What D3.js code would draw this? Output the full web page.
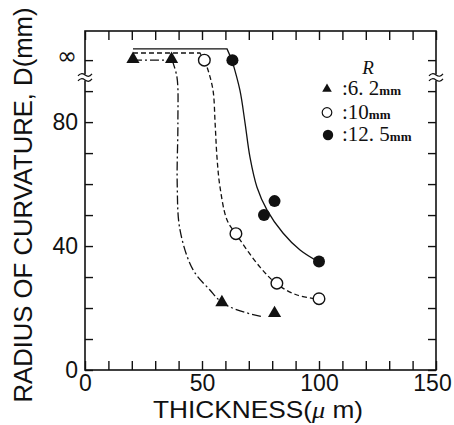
<!DOCTYPE html>
<html>
<head>
<meta charset="utf-8">
<script src="https://cdn.jsdelivr.net/npm/d3@7"></script>
<style>
  body { margin: 0; background: #fff; }
</style>
</head>
<body>
<script>
const width = 454;
const height = 425;

const SANS = "Liberation Sans, Arial, sans-serif";
const SERIF = "Liberation Serif, DejaVu Serif, serif";

// value 100 stands for the "infinity" row above the axis break
const INF = 100;

const xTickValues = d3.range(0, 151, 10);
const xLabels = [0, 50, 100, 150];
const yTickValues = d3.range(0, 101, 10);
const yLabels = { 0: "0", 40: "40", 80: "80" };

const seriesNames = ["6.2", "10", "12.5"];

// measured points
const tri = [[20.5, INF], [37, INF], [58.5, 21.5], [81, 18]];
const openC = [[51, INF], [64.5, 44], [82, 28], [100, 23]];
const fillC = [[63, INF], [76.5, 50], [81, 54.5], [100, 35]];

// fitted curves: flat cap at the top, then the fall-off
const triCap = [[20.5, INF], [37.2, INF]];
const triFall = [[37.2, INF], [39.3, 94.5], [39.7, 79.7], [39.4, 60.3], [40.6, 45.2],
  [46.2, 32.3], [53.4, 25.8], [58.5, 21.8], [65, 19.4], [76.1, 17.1]];
const openCap = [[20.5, 102.3], [49.1, 102.3], [50.9, INF]];
const openFall = [[50.9, INF], [52.4, 97.2], [54.7, 90.3], [55.6, 79.7], [56.4, 68.7],
  [57.7, 59], [60.7, 48.4], [64.5, 43.9], [74.8, 33.2], [82.1, 27.7], [90.6, 24.2], [100, 22.9]];
const fillCap = [[20.5, 103.6], [60.7, 103.6], [62.8, INF]];
const fillFall = [[62.8, INF], [66.2, 90.3], [68.4, 79.7], [70.5, 68.7], [73.5, 59],
  [77.8, 51.6], [84.6, 44.2], [91.9, 38.7], [100, 34.8]];

const svg = d3.select("body")
  .append("svg")
  .attr("width", width)
  .attr("height", height);

const x = d3.scaleLinear().domain([0, 150]).range([85, 436]);
const y = d3.scaleLinear().domain([0, 109.4]).range([370, 31]);

// ticks, all pointing inwards
const fontSize = 23;

svg.append("g")
  .attr("transform", `translate(0,${y(0)})`)
  .call(d3.axisBottom(x).tickValues(xTickValues).tickSize(-9).tickPadding(5)
    .tickFormat((d) => xLabels.includes(d) ? d : ""))
  .call((g) => g.select(".domain").remove())
  .call((g) => g.selectAll("text").attr("font-size", fontSize).attr("fill", "#111")
    .attr("font-family", SANS)
    .attr("dx", (d) => d === 150 ? -4 : 0));

svg.append("g")
  .attr("transform", `translate(0,${y(109.4)})`)
  .call(d3.axisTop(x).tickValues(xTickValues).tickSize(-9).tickFormat(""))
  .call((g) => g.select(".domain").remove());

svg.append("g")
  .attr("transform", `translate(${x(0)},0)`)
  .call(d3.axisLeft(y).tickValues(yTickValues).tickSize(-8).tickPadding(7)
    .tickFormat((d) => yLabels[d] || ""))
  .call((g) => g.select(".domain").remove())
  .call((g) => g.selectAll("text").attr("font-size", fontSize).attr("fill", "#111")
    .attr("font-family", SANS));

svg.append("g")
  .attr("transform", `translate(${x(150)},0)`)
  .call(d3.axisRight(y).tickValues(yTickValues).tickSize(-8).tickFormat(""))
  .call((g) => g.select(".domain").remove());

svg.selectAll(".tick line").attr("stroke", "#111").attr("stroke-width", 1.4);

// frame
svg.append("rect")
  .attr("x", x(0)).attr("y", y(109.4))
  .attr("width", x(150) - x(0)).attr("height", y(0) - y(109.4))
  .attr("fill", "none").attr("stroke", "#111").attr("stroke-width", 1.6);

// axis breaks
const breakY = y(94.4);
[x(0), x(150)].forEach((bx) => {
  svg.append("rect").attr("x", bx - 3).attr("y", breakY - 3).attr("width", 6).attr("height", 6)
    .attr("fill", "#fff");
  [-2.5, 2.5].forEach((off) => {
    svg.append("path")
      .attr("d", `M${bx - 7},${breakY + off + 1} q3,-4 7,-1 q4,3 7,-1`)
      .attr("fill", "none").attr("stroke", "#111").attr("stroke-width", 1.2);
  });
});

// infinity label
svg.append("text")
  .attr("x", 67).attr("y", y(INF) - 5)
  .attr("text-anchor", "middle")
  .attr("dy", "0.35em")
  .attr("font-size", 24)
  .attr("fill", "#111")
  .attr("font-family", "DejaVu Sans, sans-serif")
  .text("∞");

// axis titles
svg.append("text")
  .attr("transform", "translate(32,205) rotate(-90)")
  .attr("text-anchor", "middle")
  .attr("font-size", 25)
  .attr("font-family", SANS)
  .attr("textLength", 395)
  .attr("lengthAdjust", "spacingAndGlyphs")
  .attr("fill", "#111")
  .text("RADIUS OF CURVATURE, D(mm)");

const xt = svg.append("text")
  .attr("x", 258).attr("y", 418)
  .attr("text-anchor", "middle")
  .attr("font-size", 24)
  .attr("font-family", SANS)
  .attr("textLength", 210)
  .attr("lengthAdjust", "spacingAndGlyphs")
  .attr("fill", "#111");
xt.append("tspan").text("THICKNESS(");
xt.append("tspan").attr("font-family", SERIF).attr("font-style", "italic").text("μ");
xt.append("tspan").text(" m)");

// curves
const straight = d3.line().x((d) => x(d[0])).y((d) => y(d[1]));
const smooth = d3.line().x((d) => x(d[0])).y((d) => y(d[1])).curve(d3.curveCatmullRom.alpha(0.5));

const curves = [
  { cap: triCap, fall: triFall, dash: "9,3,2,3" },
  { cap: openCap, fall: openFall, dash: "5,3" },
  { cap: fillCap, fall: fillFall, dash: null },
];

curves.forEach((c) => {
  svg.append("path").attr("d", straight(c.cap))
    .attr("fill", "none").attr("stroke", "#111").attr("stroke-width", 1.3)
    .attr("stroke-dasharray", c.dash);
  svg.append("path").attr("d", smooth(c.fall))
    .attr("fill", "none").attr("stroke", "#111").attr("stroke-width", 1.3)
    .attr("stroke-dasharray", c.dash);
});

// markers
const triSym = d3.symbol(d3.symbolTriangle, 75);

svg.append("g").selectAll("path").data(tri).join("path")
  .attr("transform", (d) => `translate(${x(d[0])},${y(d[1]) - 1})`)
  .attr("d", triSym())
  .attr("fill", "#111");

svg.append("g").selectAll("circle").data(openC).join("circle")
  .attr("cx", (d) => x(d[0])).attr("cy", (d) => y(d[1])).attr("r", 5.8)
  .attr("fill", "#fff").attr("stroke", "#111").attr("stroke-width", 1.4);

svg.append("g").selectAll("circle").data(fillC).join("circle")
  .attr("cx", (d) => x(d[0])).attr("cy", (d) => y(d[1])).attr("r", 6)
  .attr("fill", "#111");

// legend
const lg = svg.append("g").attr("fill", "#111");
lg.append("text").attr("x", 368).attr("y", 74).attr("text-anchor", "middle")
  .attr("font-family", SERIF)
  .attr("font-size", 19).attr("font-style", "italic").text("R");

const legendY = [95, 118.5, 141];
seriesNames.forEach((name, i) => {
  const ly = legendY[i];
  if (i === 0) {
    lg.append("path").attr("transform", `translate(327,${ly - 6})`)
      .attr("d", d3.symbol(d3.symbolTriangle, 40)()).attr("fill", "#111");
  } else if (i === 1) {
    lg.append("circle").attr("cx", 327).attr("cy", ly - 6).attr("r", 4.8)
      .attr("fill", "#fff").attr("stroke", "#111").attr("stroke-width", 1.2);
  } else {
    lg.append("circle").attr("cx", 328).attr("cy", ly - 6).attr("r", 5.2).attr("fill", "#111");
  }
  const t = lg.append("text").attr("x", 342).attr("y", ly)
    .attr("font-family", SERIF).attr("font-size", 21);
  t.append("tspan").text(":" + name.replace(".", ". "));
  t.append("tspan").attr("font-size", 13).attr("font-weight", "bold").text("mm");
});
</script>
</body>
</html>
